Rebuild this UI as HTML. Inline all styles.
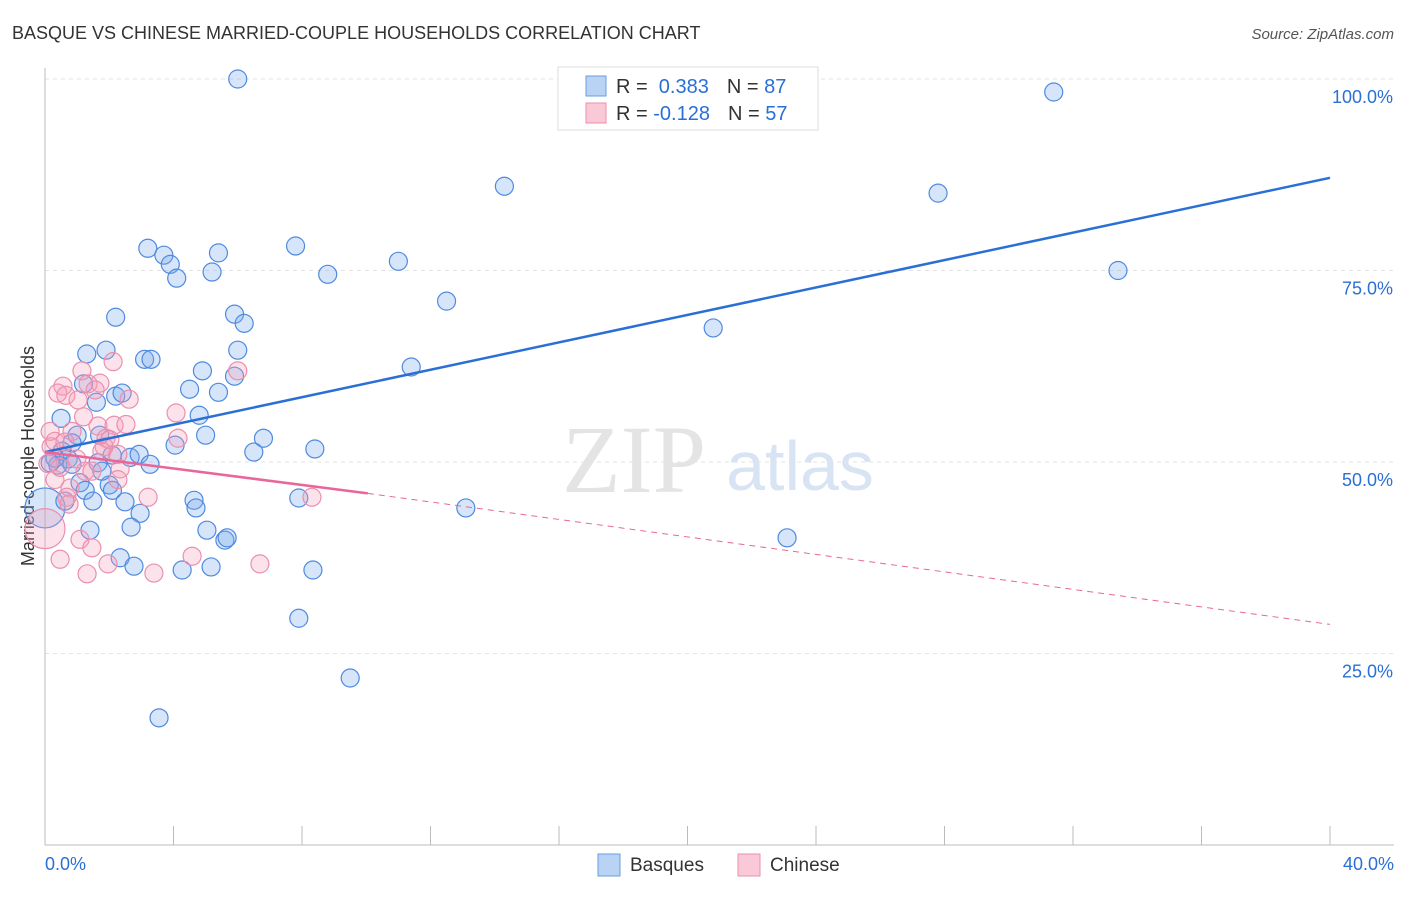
<!DOCTYPE html><html><head><meta charset="utf-8"><style>
body{margin:0;background:#fff;font-family:"Liberation Sans",sans-serif}
</style></head><body>
<svg id="c" width="1406" height="892" xmlns="http://www.w3.org/2000/svg" font-family="Liberation Sans, sans-serif">
<text x="12" y="39" font-size="18" fill="#333">BASQUE VS CHINESE MARRIED-COUPLE HOUSEHOLDS CORRELATION CHART</text>
<text x="1394" y="39" font-size="15" fill="#555" font-style="italic" text-anchor="end">Source: ZipAtlas.com</text>
<text x="634" y="492" font-size="96" fill="#e4e4e4" font-family="Liberation Serif, serif" text-anchor="middle">ZIP</text>
<text x="800" y="490" font-size="70" fill="#d8e4f4" text-anchor="middle">atlas</text>
<text transform="translate(34,456) rotate(-90)" font-size="18" fill="#333" text-anchor="middle">Married-couple Households</text>
<g id="grid"></g><g id="marks"></g>
<g>
<rect x="558" y="67" width="260" height="63" fill="#fff" stroke="#ddd"/>
<rect x="586" y="76" width="20" height="20" fill="#b9d3f5" stroke="#6a9be0"/>
<rect x="586" y="103" width="20" height="20" fill="#f9c9d8" stroke="#eb8fae"/>
<text x="616" y="93" font-size="20" fill="#333">R = <tspan fill="#2a6fd6">&#160;0.383</tspan><tspan dx="18">N = </tspan><tspan fill="#2a6fd6">87</tspan></text>
<text x="616" y="120" font-size="20" fill="#333">R = <tspan fill="#2a6fd6">-0.128</tspan><tspan dx="18">N = </tspan><tspan fill="#2a6fd6">57</tspan></text>
</g>
<g>
<rect x="598" y="854" width="22" height="22" fill="#b9d3f5" stroke="#6a9be0"/>
<text x="630" y="871" font-size="19" fill="#333">Basques</text>
<rect x="738" y="854" width="22" height="22" fill="#f9c9d8" stroke="#eb8fae"/>
<text x="770" y="871" font-size="19" fill="#333">Chinese</text>
</g>
</svg>
<script>
const xTicks=[0,5,10,15,20,25,30,35,40];
const yTicks=[25,50,75,100];
const basqueX=[6,31.4,14.3,27.8,33.4,3.2,3.7,3.9,4.1,5.4,5.2,7.8,8.8,11,12.5,5.9,6.2,2.2,20.8,1.3,1.9,3.1,3.3,6,4.9,5.9,11.4,1.2,4.5,5.4,2.2,2.4,1.6,4.8,0.5,5,6.8,8.4,1,1.7,6.5,4.05,0.84,2.65,2.93,3.27,2.09,1.65,0.72,0.4,0.53,0.16,0.31,0,1.09,1.25,2,2.1,1.77,1.49,2.49,4.64,4.7,7.9,13.1,2.96,2.68,5.04,5.6,5.67,1.4,2.34,2.77,4.27,5.17,8.34,23.1,7.9,9.5,3.55,0.84,0.62];
const basqueY=[100,98.3,86,85.1,75,77.9,77,75.8,74,77.3,74.8,78.2,74.5,76.2,71,69.3,68.1,68.9,67.5,64.1,64.6,63.4,63.4,64.6,61.9,61.2,62.4,60.2,59.5,59.1,58.6,59,57.8,56.1,55.7,53.5,53.1,51.7,53.5,53.5,51.3,52.2,52.5,50.6,51,49.7,50.9,49.9,50.4,49.6,51.4,49.9,50.5,44,47.3,46.3,47,46.3,48.8,44.9,44.8,45,44,45.3,44,43.3,41.5,41.1,39.8,40.1,41.1,37.5,36.4,35.9,36.3,35.9,40.1,29.6,21.8,16.6,49.7,44.9];
const basqueR=[9,9,9,9,9,9,9,9,9,9,9,9,9,9,9,9,9,9,9,9,9,9,9,9,9,9,9,9,9,9,9,9,9,9,9,9,9,9,9,9,9,9,9,9,9,9,9,9,9,9,9,9,9,20,9,9,9,9,9,9,9,9,9,9,9,9,9,9,9,9,9,9,9,9,9,9,9,9,9,9,9,9];
const chineseX=[2.12,6,1.15,0.56,1.34,1.71,0.4,0.65,1.56,1.03,2.62,4.08,1.2,0.16,0.84,1.65,2.15,2.52,1.9,0.19,1.84,4.14,2.34,0.99,1.25,0.31,0.78,3.21,0.68,0.75,2.27,8.31,0,1.09,1.46,0.47,1.96,4.58,6.69,1.31,3.39,0.09,0.47,2.02,1.77,2.27,1.46,0.31,0.62];
const chineseY=[63.1,61.9,61.9,59.9,60.2,60.3,59,58.7,59.4,58.1,58.2,56.4,55.9,54,54,54.7,54.8,54.9,53.1,52,52,53.1,49.1,50.4,48.8,47.7,46.6,45.4,45.4,44.5,47.7,45.4,41.3,39.9,38.8,37.3,36.7,37.7,36.7,35.4,35.5,49.8,49.3,52.9,51.4,51,48.8,52.7,52.6];
const chineseR=chineseX.map((_,i)=>i===32?20:9);
const X=v=>45+v*32.125, Y=v=>845-v*7.66;
const NS='http://www.w3.org/2000/svg';
function mk(t,a,p){const e=document.createElementNS(NS,t);for(const k in a)e.setAttribute(k,a[k]);p.appendChild(e);return e;}
const g=document.getElementById('grid'),m=document.getElementById('marks');
yTicks.forEach(v=>{const l=mk('line',{x1:45,x2:1394,y1:Y(v),y2:Y(v),stroke:'#e3e3e3','stroke-dasharray':'4 4'},g);


const t=mk('text',{x:1393,y:Y(v)+24,'font-size':18,fill:'#2a6fd6','text-anchor':'end'},g);t.textContent=v.toFixed(1)+'%';

});
mk('line',{x1:45,x2:45,y1:68,y2:845,stroke:'#bbb'},g);
mk('line',{x1:45,x2:1394,y1:845,y2:845,stroke:'#bbb'},g);
for(let i=0;i<=10;i++){const l=mk('line',{x1:X(i*4),x2:X(i*4),y1:826,y2:845,stroke:'#bbb'},g);

}
[[0,'0.0%','start',45],[40,'40.0%','end',1394]].forEach(([v,s,a,x])=>{const t=mk('text',{x:x,y:870,'font-size':18,fill:'#2a6fd6','text-anchor':a},g);t.textContent=s;

});
basqueX.forEach((v,i)=>{const c=mk('circle',{cx:X(v),cy:Y(basqueY[i]),r:basqueR[i],fill:'rgba(120,170,235,0.3)',stroke:'#4f8ae0','stroke-width':1.2},m);

});
chineseX.forEach((v,i)=>{const c=mk('circle',{cx:X(v),cy:Y(chineseY[i]),r:chineseR[i],fill:'rgba(245,160,185,0.3)',stroke:'#ec8fae','stroke-width':1.2},m);

});
const bl=mk('line',{x1:X(0),y1:Y(51.3),x2:X(40),y2:Y(87.1),stroke:'#2a6fd6','stroke-width':2.5},m);


const pl=mk('line',{x1:X(0),y1:Y(51.3),x2:X(10.05),y2:Y(45.9),stroke:'#e8679a','stroke-width':2.5},m);


const pd=mk('line',{x1:X(10.05),y1:Y(45.9),x2:X(40),y2:Y(28.8),stroke:'#e8679a','stroke-width':1,'stroke-dasharray':'6 5'},m);


</script></body></html>
